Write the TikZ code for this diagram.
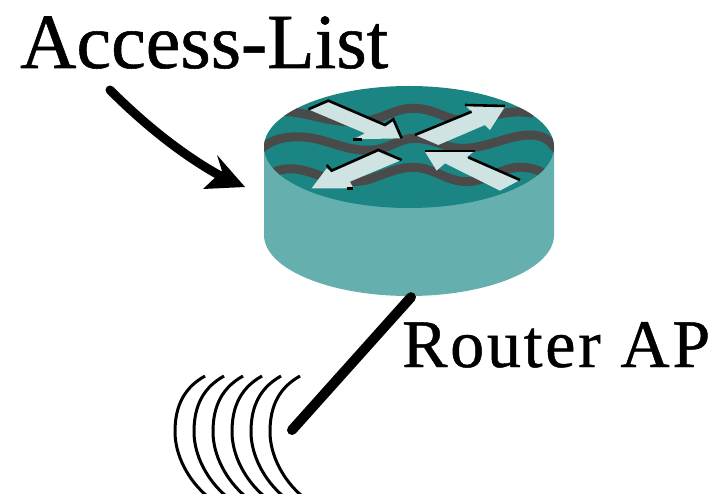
\documentclass[tikz,border=0pt]{standalone}
\usepackage{fontspec}
\setmainfont{Liberation Serif}
\newfontfamily\accessfont[FakeBold=0.7]{Liberation Serif}
\newfontfamily\apfont[FakeBold=0.7,LetterSpace=4]{Liberation Serif}
\usetikzlibrary{arrows.meta,positioning}
\definecolor{routertop}{HTML}{1A8582}
\definecolor{routerside}{HTML}{66AFAF}
\definecolor{routerwave}{HTML}{4A4A4A}
\definecolor{routerarrow}{HTML}{CFE3E3}
\tikzset{
  bigtext/.style={inner sep=0pt, anchor=base west},
  wavecurve/.style={draw=routerwave, line width=9pt},
  arrowface/.style={fill=routerarrow},
  arrowedge/.style={draw=black, line width=2.6pt},
  radioarc/.style={draw=black, line width=3pt}
}
\begin{document}
\begin{tikzpicture}[x=1pt, y=-1pt]
\useasboundingbox (0,0) rectangle (712,494);
\clip (0,0) rectangle (712,494);

% Router body
\fill[routerside] (264,147) -- (264,235) arc[start angle=180, end angle=360, x radius=145, y radius=-61] -- (554,147) -- cycle;
\fill[routertop] (409,147) ellipse[x radius=145, y radius=61];
\node[minimum width=290pt, minimum height=212pt, inner sep=0pt] (router) at (409,191) {};

% Waves and arrows on top
\begin{scope}
\clip (409,147) ellipse[x radius=145, y radius=61];
\begin{scope}[shift={(250,80)}, x=0.3333pt, y=-0.3333pt]
\draw[wavecurve] (100,95) .. controls (180,95) and (230,130) .. (330,125) .. controls (400,120) and (430,85) .. (490,85) .. controls (560,85) and (590,125) .. (650,120) .. controls (720,115) and (770,85) .. (850,100);
\draw[wavecurve] (30,210) .. controls (70,170) and (130,165) .. (190,175) .. controls (260,190) and (300,215) .. (370,210) .. controls (420,205) and (450,175) .. (490,175) .. controls (560,175) and (590,210) .. (650,205) .. controls (720,200) and (780,165) .. (840,165) .. controls (880,165) and (900,180) .. (920,210);
\draw[wavecurve] (60,285) .. controls (90,260) and (140,262) .. (190,280) .. controls (250,300) and (290,312) .. (350,300) .. controls (400,285) and (440,262) .. (490,262) .. controls (550,262) and (590,305) .. (650,305) .. controls (710,305) and (760,260) .. (810,262) .. controls (850,262) and (880,275) .. (900,295);
\end{scope}
\end{scope}
\begin{scope}[shift={(250,80)}, x=0.3333pt, y=-0.3333pt]
\fill[arrowface] (175,88) -- (235,62) -- (405,135) -- (430,118) -- (455,175) -- (310,178) -- (345,160) -- cycle;
\draw[arrowedge] (175,88) -- (235,62) -- (405,135) -- (430,118) -- (455,175);
\draw[arrowedge] (310,178) -- (335,178);
\fill[arrowface] (495,165) -- (665,95) -- (645,75) -- (765,80) -- (720,150) -- (705,135) -- (565,195) -- cycle;
\draw[arrowedge] (495,165) -- (665,95);
\draw[arrowedge] (645,75) -- (765,78);
\fill[arrowface] (185,325) -- (230,265) -- (245,275) -- (385,210) -- (455,240) -- (300,305) -- (310,325) -- cycle;
\draw[arrowedge] (230,255) -- (245,272) -- (385,210) -- (455,240);
\draw[arrowedge] (290,325) -- (310,325);
\fill[arrowface] (525,215) -- (675,212) -- (650,232) -- (810,300) -- (750,332) -- (585,250) -- (560,272) -- cycle;
\draw[arrowedge] (525,213) -- (675,213);
\draw[arrowedge] (655,232) -- (810,300);
\end{scope}

% Labels
\node[bigtext, font=\accessfont\fontsize{78}{78}\selectfont] (accesslist) at (20,68) {Access-List};
\node[bigtext, font=\apfont\fontsize{68}{68}\selectfont] (routerap) at (402,367) {Router AP};

% Radio arcs
\foreach \i in {0,...,5}
  \draw[radioarc, xshift=\i*19pt] (205,376) .. controls (180,390) and (175,412) .. (175,432) .. controls (175,455) and (188,480) .. (207,496);

% Connectors
\coordinate (arrowstart) at (110,90);
\coordinate (radio) at (292,430);
\draw[line width=10pt, line cap=round] (router.south) ++(2,0) -- (radio);
\draw[line width=9pt, line cap=round] (arrowstart) .. controls (138,118) and (180,155) .. (228,180);
\fill (245,187) -- (217,155) -- (222,171) -- (203,189) -- cycle;
\end{tikzpicture}
\end{document}
